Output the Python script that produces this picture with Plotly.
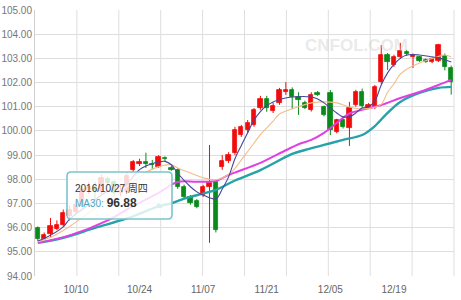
import pandas as pd
import plotly.graph_objects as go

# ---------------- data ----------------
dates = pd.bdate_range("2016-09-30", "2016-12-30")  # trading days (66)

opens = [96.00, 95.55, 95.75, 95.95, 96.10, 96.50, 96.65, 96.90, 97.55, 97.70,
         97.50, 98.00, 97.90, 97.45, 97.50, 98.39, 98.64, 98.72, 98.64, 98.51,
         98.90, 98.45, 98.39, 97.69, 97.27, 97.10, 97.36, 97.69, 97.90, 98.51,
         98.76, 99.09, 99.83, 100.04, 100.25, 100.95, 101.32, 100.83, 101.16, 101.61,
         101.69, 101.40, 101.16, 100.87, 101.57, 100.99, 101.57, 99.96, 100.45, 100.12,
         101.07, 101.61, 100.95, 100.99, 102.02, 103.14, 102.73, 103.06, 103.26, 103.06,
         103.06, 102.95, 102.87, 102.90, 103.10, 102.60]
highs = [96.05, 95.80, 96.40, 96.30, 96.75, 96.90, 97.10, 97.70, 97.90, 97.90,
         98.20, 98.10, 97.95, 97.80, 98.30, 98.80, 98.85, 99.10, 98.80, 99.00,
         98.95, 98.55, 98.45, 97.78, 97.35, 97.18, 97.77, 99.42, 97.98, 99.00,
         99.12, 100.17, 100.25, 100.45, 100.95, 101.45, 101.45, 101.16, 101.78, 102.02,
         101.80, 101.60, 101.25, 101.60, 101.65, 101.05, 101.69, 100.50, 100.50, 101.20,
         101.70, 101.75, 101.15, 101.90, 103.55, 103.22, 103.15, 103.64, 103.35, 103.20,
         103.10, 103.00, 103.02, 103.60, 103.20, 102.70]
lows = [95.45, 95.50, 95.60, 95.90, 96.05, 96.30, 96.55, 96.85, 97.40, 97.20,
        97.40, 97.70, 97.30, 97.30, 97.40, 98.30, 98.55, 98.47, 98.40, 98.47,
        98.75, 98.35, 97.60, 97.20, 96.95, 96.80, 97.27, 95.37, 95.80, 98.39,
        98.67, 99.00, 99.75, 99.92, 100.17, 100.87, 100.79, 100.74, 101.08, 101.49,
        100.90, 100.66, 100.90, 100.80, 101.45, 100.60, 99.83, 99.90, 100.10, 99.38,
        101.00, 100.95, 100.90, 100.90, 101.94, 102.52, 102.65, 103.00, 103.10, 102.60,
        102.85, 102.82, 102.80, 102.85, 102.50, 101.50]
closes = [95.55, 95.70, 96.05, 96.12, 96.60, 96.75, 96.95, 97.60, 97.70, 97.50,
          98.05, 97.85, 97.45, 97.52, 98.15, 98.72, 98.72, 98.65, 98.57, 98.93,
          98.82, 98.40, 97.69, 97.27, 97.02, 96.86, 97.69, 97.85, 95.90, 98.76,
          99.00, 100.04, 100.17, 100.33, 100.87, 101.32, 100.95, 101.03, 101.69, 101.69,
          101.40, 101.28, 100.95, 101.49, 101.49, 100.66, 100.04, 100.45, 100.17, 100.95,
          101.61, 101.03, 101.07, 101.82, 103.14, 102.85, 103.06, 103.31, 103.18, 103.14,
          102.90, 102.87, 102.98, 103.55, 102.65, 102.02]

# moving averages (trading-day index, value)
ma5_idx = [0, 1, 4, 5, 8, 10, 12, 14, 16, 17, 19, 20, 21, 22, 24, 25, 26, 28, 29, 30, 31, 32,
           33, 34, 35, 36, 37, 38, 39, 40, 43, 44, 45, 47, 48, 49, 50, 51, 52, 53, 54, 55,
           56, 57, 58, 60, 62, 63, 65]
ma5_val = [95.45, 95.55, 96.03, 96.35, 96.95, 97.35, 97.65, 97.85, 98.40, 98.55, 98.72, 98.74,
           98.60, 98.25, 97.69, 97.48, 97.35, 97.19, 97.60, 98.10, 98.85, 99.40, 99.92, 100.45,
           100.80, 101.05, 101.20, 101.30, 101.36, 101.40, 101.40, 101.32, 101.16, 100.74,
           100.58, 100.58, 100.74, 100.95, 100.99, 101.24, 101.90, 102.40, 102.75, 103.00,
           103.14, 103.14, 103.06, 103.02, 102.85]
ma10_idx = [0, 2, 5, 9, 13, 16, 18, 21, 22, 24, 26, 28, 30, 31, 32, 34, 35, 37, 38, 41, 43, 45,
            47, 49, 51, 53, 54, 55, 56, 57, 58, 60, 63, 64, 65]
ma10_val = [95.41, 95.60, 96.05, 96.80, 97.50, 98.10, 98.42, 98.60, 98.47, 98.26, 98.06, 97.98,
            98.20, 98.45, 98.80, 99.50, 99.85, 100.40, 100.70, 101.00, 101.16, 101.20, 101.16,
            100.99, 100.91, 100.98, 101.10, 101.60, 101.95, 102.35, 102.55, 102.81, 103.08,
            103.14, 103.06]
ma20_idx = [0, 5, 11, 14, 19, 22, 25, 28, 30, 35, 39, 41, 43, 45, 47, 49, 51, 54, 57, 60, 63, 65]
ma20_val = [95.37, 95.68, 96.30, 96.75, 97.44, 97.89, 97.90, 97.93, 98.18, 98.68, 99.20, 99.45,
            99.63, 99.92, 100.33, 100.72, 100.87, 101.07, 101.36, 101.61, 101.90, 102.11]
ma30_idx = [0, 4, 9, 14, 19, 21, 23, 25, 28, 31, 35, 40, 42, 45, 48, 51, 53, 55, 57, 60, 63, 65]
ma30_val = [95.37, 95.58, 95.99, 96.38, 96.88, 97.00, 97.20, 97.34, 97.56, 97.95, 98.38, 99.05,
            99.21, 99.42, 99.63, 99.83, 100.20, 100.75, 101.20, 101.57, 101.78, 101.82]

tick_dates = ["2016-10-10", "2016-10-24", "2016-11-07", "2016-11-21", "2016-12-05", "2016-12-19"]
tick_labels = ["10/10", "10/24", "11/07", "11/21", "12/05", "12/19"]
y_ticks = [94, 95, 96, 97, 98, 99, 100, 101, 102, 103, 104, 105]

hover_i = 19
hover_date = "2016/10/27,周四"
hover_label = "MA30"
hover_value = 96.88

# ---------------- figure ----------------
idx = list(range(len(dates)))
date_pos = {d.strftime("%Y-%m-%d"): i for i, d in enumerate(dates)}
tick_pos = [date_pos[d] for d in tick_dates]

RED = "#f20c0c"
GREEN = "#0a8a1a"
GRID = "#dedede"
FONT = "Liberation Sans, Arial, Noto Sans CJK SC, sans-serif"

fig = go.Figure()

# candles: wick lines + body bars, split by direction
for up, col in [(True, RED), (False, GREEN)]:
    sel = [i for i in idx if (closes[i] >= opens[i]) == up]
    wx, wy = [], []
    for i in sel:
        wx += [i, i, None]
        wy += [lows[i], highs[i], None]
    fig.add_trace(go.Scatter(x=wx, y=wy, mode="lines", line=dict(color=col, width=1),
                             hoverinfo="skip", showlegend=False))
    fig.add_trace(go.Bar(x=sel, base=[min(opens[i], closes[i]) for i in sel],
                         y=[abs(closes[i] - opens[i]) for i in sel], width=0.68,
                         marker=dict(color=col, line=dict(color=col, width=0.8)),
                         hoverinfo="skip", showlegend=False))

for xs, ys, col, w in [(ma30_idx, ma30_val, "#27a2a8", 2.4),
                       (ma20_idx, ma20_val, "#e23fe2", 2.0),
                       (ma10_idx, ma10_val, "#f3bd8a", 1.1),
                       (ma5_idx, ma5_val, "#46469c", 1.1)]:
    fig.add_trace(go.Scatter(x=xs, y=ys, mode="lines",
                             line=dict(color=col, width=w, shape="spline", smoothing=1.0),
                             hoverinfo="skip", showlegend=False))

fig.add_trace(go.Scatter(x=[hover_i], y=[hover_value], mode="markers",
                         marker=dict(symbol="triangle-up", size=7, color="#27a2a8"),
                         hoverinfo="skip", showlegend=False))

xr = [-0.44, 65.44]
W, H = 461, 300
ml, mr, mt, mb = 35, 7, 10, 24
pw, ph = W - ml - mr, H - mt - mb

# vertical split lines: ten equal divisions of the plot width
for k in range(1, 11):
    fig.add_shape(type="line", xref="paper", yref="paper", x0=k / 10, x1=k / 10, y0=0, y1=1,
                  line=dict(color=GRID, width=1), layer="below")


def px2paper(x, y):
    return (x - ml) / pw, (H - mb - y) / ph


def rounded_rect(x0, y0, x1, y1, r):
    ax0, ay0 = px2paper(x0, y0)
    ax1, ay1 = px2paper(x1, y1)
    rx, ry = r / pw, r / ph
    return (f"M {ax0+rx},{ay0} L {ax1-rx},{ay0} Q {ax1},{ay0} {ax1},{ay0-ry} "
            f"L {ax1},{ay1+ry} Q {ax1},{ay1} {ax1-rx},{ay1} L {ax0+rx},{ay1} "
            f"Q {ax0},{ay1} {ax0},{ay1+ry} L {ax0},{ay0-ry} Q {ax0},{ay0} {ax0+rx},{ay0} Z")


fig.add_shape(type="path", xref="paper", yref="paper", layer="above",
              path=rounded_rect(67, 172, 172, 219, 4),
              fillcolor="rgba(255,255,255,0.82)", line=dict(color="#7cc3cc", width=1.6))

lx, ly1 = px2paper(73, 188)
_, ly2 = px2paper(73, 203)
fig.add_annotation(xref="paper", yref="paper", x=lx, y=ly1, xanchor="left", yanchor="middle",
                   text=hover_date, showarrow=False, font=dict(size=10, color="#333", family=FONT))
fig.add_annotation(xref="paper", yref="paper", x=lx, y=ly2, xanchor="left", yanchor="middle",
                   text=f"<span style='color:#4aa6c4'>{hover_label}: </span>"
                        f"<b><span style='font-size:12px'>{hover_value:.2f}</span></b>",
                   showarrow=False, font=dict(size=10, color="#333", family=FONT))

wmx, wmy = px2paper(410, 34)
fig.add_annotation(xref="paper", yref="paper", x=wmx, y=wmy, text="<b>CNFOL.COM</b>",
                   showarrow=False, font=dict(size=17, color="rgba(200,200,200,0.4)", family=FONT))

fig.update_layout(
    template="none", barmode="overlay", bargap=0,
    width=W, height=H, margin=dict(l=ml, r=mr, t=mt, b=mb, autoexpand=False),
    paper_bgcolor="white", plot_bgcolor="white",
    xaxis=dict(range=xr, tickmode="array", tickvals=tick_pos, ticktext=tick_labels,
               showgrid=False, zeroline=False, automargin=False, fixedrange=True,
               showline=False, ticks="outside", ticklen=4, tickcolor="rgba(0,0,0,0)",
               tickfont=dict(size=10, color="#666", family=FONT)),
    yaxis=dict(range=[94, 105], tickmode="array", tickvals=y_ticks, automargin=False,
               ticktext=[f"{v:.2f}" for v in y_ticks], showgrid=True, gridcolor=GRID,
               zeroline=False, showline=True, linecolor="#cfcfcf", linewidth=1, ticks="",
               fixedrange=True, tickfont=dict(size=10, color="#777", family=FONT)),
    showlegend=False,
)

fig.write_html("out.html")
